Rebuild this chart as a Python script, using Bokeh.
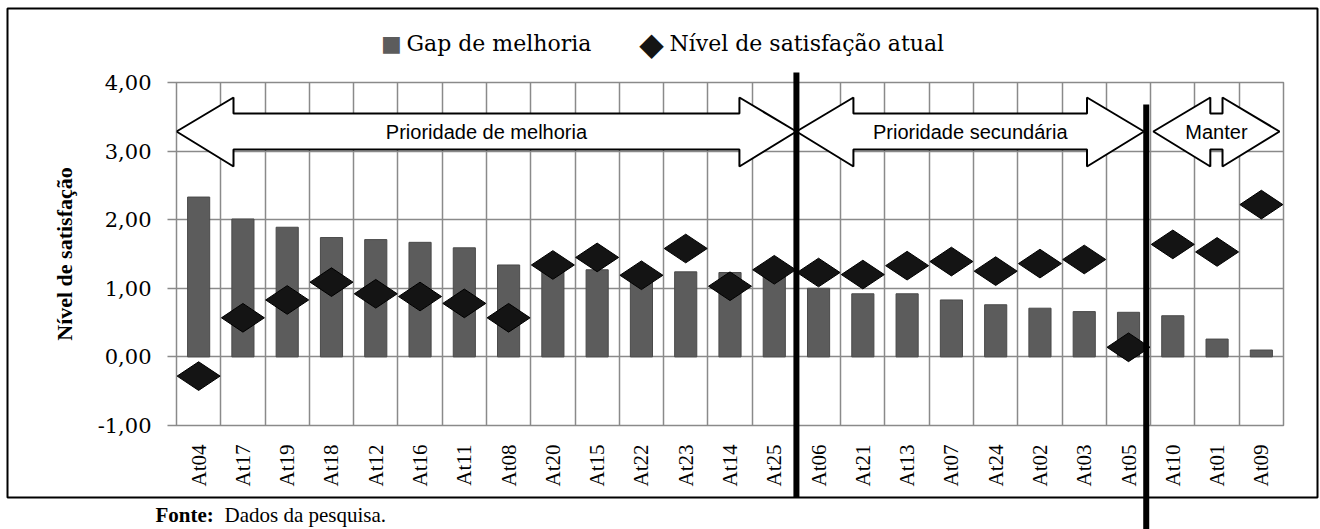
import math
from bokeh.plotting import figure
from bokeh.models import ColumnDataSource, FixedTicker, Range1d, Label
from bokeh.core.properties import value
from bokeh.embed import file_html
from bokeh.resources import INLINE

# ---------------- data ----------------
categories = ["At04", "At17", "At19", "At18", "At12", "At16", "At11", "At08", "At20", "At15",
              "At22", "At23", "At14", "At25", "At06", "At21", "At13", "At07", "At24", "At02",
              "At03", "At05", "At10", "At01", "At09"]
gap_melhoria = [2.33, 2.01, 1.89, 1.74, 1.71, 1.67, 1.59, 1.34, 1.31, 1.27,
                1.25, 1.24, 1.23, 1.21, 1.00, 0.92, 0.92, 0.83, 0.76, 0.71,
                0.66, 0.65, 0.60, 0.26, 0.10]
satisfacao = [-0.28, 0.57, 0.83, 1.09, 0.92, 0.88, 0.78, 0.57, 1.34, 1.45,
              1.19, 1.58, 1.03, 1.27, 1.23, 1.20, 1.33, 1.39, 1.25, 1.36,
              1.42, 0.14, 1.64, 1.53, 2.22]
group_names = ["Prioridade de melhoria", "Prioridade secundária", "Manter"]
group_sizes = [14, 8, 3]
y_ticks = [-1, 0, 1, 2, 3, 4]
y_tick_labels = ["-1,00", "0,00", "1,00", "2,00", "3,00", "4,00"]
series_names = ["Gap de melhoria", "Nível de satisfação atual"]
legend_symbols = ["■", "◆"]
source_text = ("Fonte:", "Dados da pesquisa.")

# ---------------- layout constants ----------------
FL, FT, FW, FH = 176, 82, 1107, 343        # frame position/size inside canvas
W, H = 1320, 529
n = len(categories)
YMIN, YMAX = -1, 4
BAR_COLOR = "#5c5c5c"
DIAMOND_COLOR = "#141414"

def px_x(cx):   # canvas px -> data x
    return (cx - FL) / FW * n

def px_y(cy):   # canvas px -> data y
    return YMAX - (cy - FT) / FH * (YMAX - YMIN)

xs = [i + 0.5 for i in range(n)]
src = ColumnDataSource(dict(x=xs, cat=categories, gap=gap_melhoria, sat=satisfacao))

p = figure(frame_width=FW, frame_height=FH, output_backend="svg", toolbar_location=None,
           x_range=Range1d(0, n), y_range=Range1d(YMIN, YMAX),
           min_border_left=FL, min_border_top=FT, min_border_right=W - FL - FW,
           min_border_bottom=H - FT - FH, background_fill_color="white",
           border_fill_color="white")
p.outline_line_color = "#8a8a8a"
p.outline_line_width = 1.5

# grid
p.xgrid.ticker = FixedTicker(ticks=list(range(n + 1)))
p.ygrid.ticker = FixedTicker(ticks=y_ticks)
for g in (p.xgrid, p.ygrid):
    g.grid_line_color = "#8a8a8a"
    g.grid_line_width = 1.5

# axes
p.xaxis.ticker = FixedTicker(ticks=xs)
p.xaxis.major_label_overrides = {x: c for x, c in zip(xs, categories)}
p.xaxis.major_label_orientation = math.pi / 2
p.xaxis.major_label_text_font = "Liberation Serif"
p.xaxis.major_label_text_font_size = "21px"
p.xaxis.major_label_text_color = "black"
p.xaxis.major_label_standoff = 13
p.xaxis.axis_line_color = None
p.xaxis.major_tick_line_color = None
p.xaxis.minor_tick_line_color = None

p.yaxis.ticker = FixedTicker(ticks=y_ticks)
p.yaxis.major_label_overrides = {t: l for t, l in zip(y_ticks, y_tick_labels)}
p.yaxis.major_label_text_font = "DejaVu Serif"
p.yaxis.major_label_text_font_size = "21px"
p.yaxis.major_label_text_color = "black"
p.yaxis.major_label_standoff = 16
p.yaxis.axis_line_color = None
p.yaxis.major_tick_in = 0
p.yaxis.major_tick_out = 9
p.yaxis.major_tick_line_color = "#8a8a8a"
p.yaxis.major_tick_line_width = 1.5
p.yaxis.minor_tick_line_color = None
p.yaxis.axis_label = "Nível de satisfação"
p.yaxis.axis_label_text_font = "Liberation Serif"
p.yaxis.axis_label_text_font_style = "bold"
p.yaxis.axis_label_text_font_size = "22px"
p.yaxis.axis_label_text_color = "black"
p.yaxis.axis_label_standoff = 18

# bars
bars = p.vbar(x="x", top="gap", bottom=0, width=0.5, source=src,
              fill_color=BAR_COLOR, line_color="#4a4a4a", line_width=1)

# block arrows
def block_arrow(L, R, h, yc, yst, ysb, yht, yhb):
    return ([L, L + h, L + h, R - h, R - h, R, R - h, R - h, L + h, L + h],
            [yc, yht, yst, yst, yht, yc, yhb, ysb, ysb, yhb])

head = px_x(FL + 57)
yc, yst, ysb, yht, yhb = px_y(131), px_y(113), px_y(149), px_y(97), px_y(166)
bounds = [0]
for s in group_sizes:
    bounds.append(bounds[-1] + s)
pads = [(0.0, 0.0), (0.0, 0.15), (0.06, 0.09)]
axs, ays = [], []
for gi in range(3):
    L = bounds[gi] + pads[gi][0]
    R = bounds[gi + 1] - pads[gi][1]
    ax_, ay_ = block_arrow(L, R, head, yc, yst, ysb, yht, yhb)
    axs.append(ax_)
    ays.append(ay_)
    p.add_layout(Label(x=(L + R) / 2, y=yc, text=group_names[gi], text_align="center",
                       text_baseline="middle", text_font="Liberation Sans",
                       text_font_size="20px", text_color="black"))
p.patches(axs, ays, fill_color="white", line_color="black", line_width=2)

# diamonds
dia = p.scatter(x="x", y="sat", source=src, marker="diamond", angle=math.pi / 2, size=43,
                fill_color=DIAMOND_COLOR, line_color="#000000", line_width=1)

# decorations outside the frame: glyphs on the overlay level (not clipped)
p.quad(left=[px_x(7)], right=[px_x(1317)], top=[px_y(8)], bottom=[px_y(497)],
       fill_alpha=0, line_color="black", line_width=2, level="overlay")
p.segment(x0=[bounds[1], bounds[2] - 0.1], y0=[px_y(72), px_y(104)],
          x1=[bounds[1], bounds[2] - 0.1], y1=[px_y(497), px_y(H + 5)],
          line_color="black", line_width=6, level="overlay")
p.text(x=[px_x(155)], y=[px_y(514)], text=[source_text[0]],
       text_font=value("Liberation Serif"), text_font_style="bold",
       text_font_size="21px", text_baseline="alphabetic", text_color="black", level="overlay")
p.text(x=[px_x(224)], y=[px_y(514)], text=[source_text[1]],
       text_font=value("Liberation Serif"), text_font_size="21px",
       text_baseline="alphabetic", text_color="black", level="overlay")

# legend (drawn by hand above the frame)
LEG_Y = px_y(43)
p.text(x=[px_x(391)], y=[LEG_Y], text=[legend_symbols[0]], text_color=BAR_COLOR,
       text_font=value("DejaVu Sans"), text_font_size="22px", text_align="center",
       text_baseline="middle", level="overlay")
p.text(x=[px_x(651)], y=[LEG_Y], text=[legend_symbols[1]], text_color=DIAMOND_COLOR,
       text_font=value("DejaVu Sans"), text_font_size="32px", text_align="center",
       text_baseline="middle", level="overlay")
p.text(x=[px_x(406), px_x(669)], y=[LEG_Y, LEG_Y], text=series_names,
       text_font=value("DejaVu Serif"), text_font_size="22px", text_baseline="middle",
       text_color="black", level="overlay")

open("out.html", "w").write(file_html(p, INLINE))
